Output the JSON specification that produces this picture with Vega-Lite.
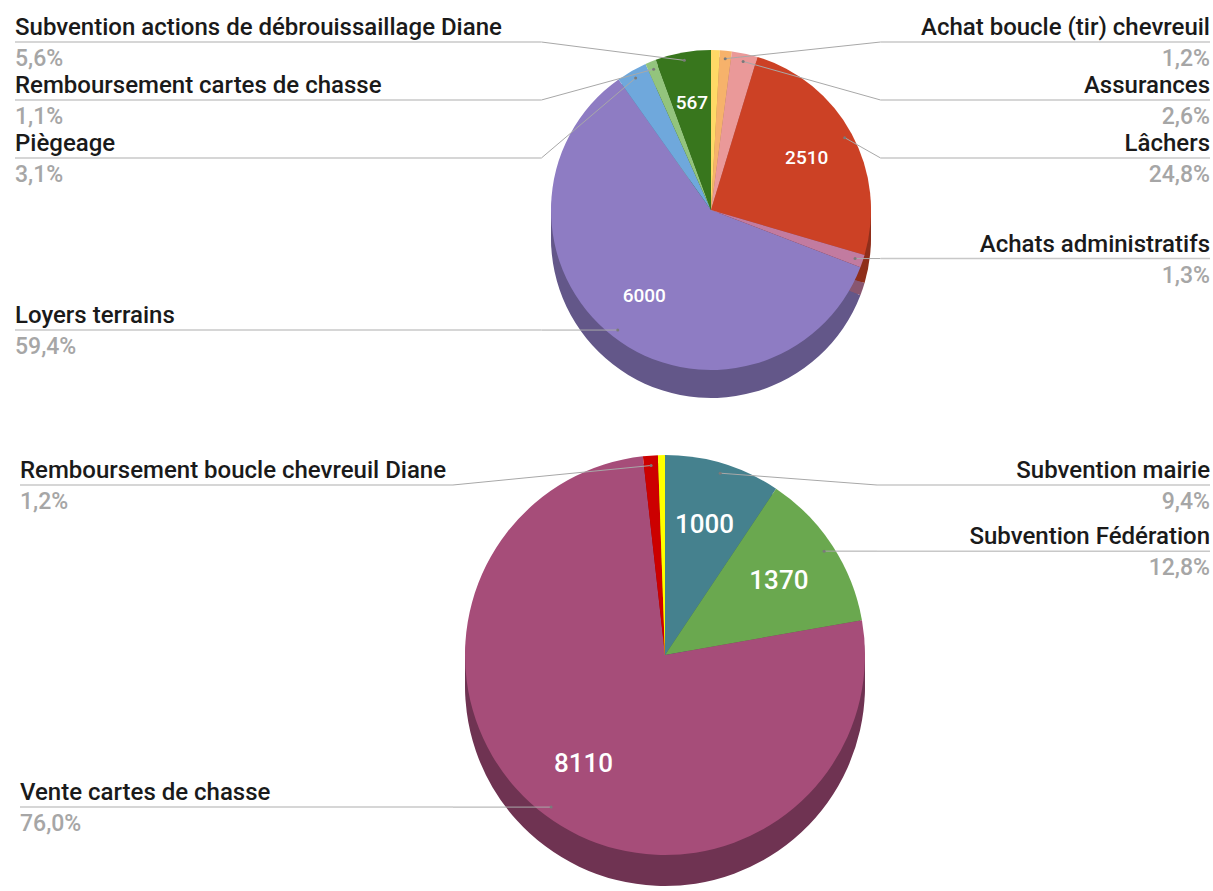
{
  "$schema": "https://vega.github.io/schema/vega-lite/v6.json",
  "padding": 0,
  "spacing": 0,
  "background": "white",
  "config": {"view": {"stroke": null}, "concat": {"spacing": 0}, "font": "Roboto"},
  "resolve": {"scale": {"color": "independent", "fill": "independent"}},
  "datasets": {
    "depenses": [
      {"order": 1, "cat": "Autre", "value": 90, "pct": null},
      {"order": 2, "cat": "Achat boucle (tir) chevreuil", "value": 121, "pct": "1,2%"},
      {"order": 3, "cat": "Assurances", "value": 263, "pct": "2,6%"},
      {"order": 4, "cat": "Lâchers", "value": 2510, "pct": "24,8%"},
      {"order": 5, "cat": "Achats administratifs", "value": 131, "pct": "1,3%"},
      {"order": 6, "cat": "Loyers terrains", "value": 6000, "pct": "59,4%"},
      {"order": 7, "cat": "Piègeage", "value": 313, "pct": "3,1%"},
      {"order": 8, "cat": "Remboursement cartes de chasse", "value": 111, "pct": "1,1%"},
      {"order": 9, "cat": "Subvention actions de débrouissaillage Diane", "value": 567, "pct": "5,6%"}
    ],
    "recettes": [
      {"order": 1, "cat": "Subvention mairie", "value": 1000, "pct": "9,4%"},
      {"order": 2, "cat": "Subvention Fédération", "value": 1370, "pct": "12,8%"},
      {"order": 3, "cat": "Vente cartes de chasse", "value": 8110, "pct": "76,0%"},
      {"order": 4, "cat": "Remboursement boucle chevreuil Diane", "value": 128, "pct": "1,2%"},
      {"order": 5, "cat": "Autre", "value": 60, "pct": null}
    ]
  },
  "vconcat": [
    {
      "width": 1213,
      "height": 400,
      "data": {"name": "depenses"},
      "transform": [
        {"window": [{"op": "sum", "field": "value", "as": "cum"}], "sort": [{"field": "order", "order": "ascending"}], "frame": [null, 0]},
        {"joinaggregate": [{"op": "sum", "field": "value", "as": "total"}]},
        {"calculate": "2*PI*(datum.cum - datum.value/2)/datum.total", "as": "mid"},
        {"calculate": "sin(datum.mid) >= 0 ? 'right' : 'left'", "as": "side"},
        {"calculate": "0.95*sin(datum.mid)", "as": "dx"},
        {"calculate": "0.95*cos(datum.mid)", "as": "dy"},
        {"calculate": "0.68*sin(datum.mid)", "as": "vx"},
        {"calculate": "0.68*cos(datum.mid)", "as": "vy"}
      ],
      "layer": [
        {"mark": {"type": "arc", "radius": 160, "yOffset": 7},
         "encoding": {
           "x": {"datum": 0, "type": "quantitative", "scale": {"domain": [-4.44375, 3.1375], "nice": false, "zero": false}, "axis": null},
           "y": {"datum": 0, "type": "quantitative", "scale": {"domain": [-1.1875, 1.3125], "nice": false, "zero": false}, "axis": null},
           "theta": {"field": "value", "type": "quantitative", "stack": true},
           "order": {"field": "order", "type": "quantitative"},
           "fill": {"field": "cat", "type": "nominal", "legend": null, "scale": {"domain": ["Autre", "Achat boucle (tir) chevreuil", "Assurances", "Lâchers", "Achats administratifs", "Loyers terrains", "Piègeage", "Remboursement cartes de chasse", "Subvention actions de débrouissaillage Diane"], "range": ["#b39a48", "#ac7d4b", "#a46b6b", "#8f2e1a", "#885670", "#635789", "#4e769a", "#678958", "#275314"]}}
         }},
        {"mark": {"type": "arc", "radius": 160, "yOffset": 14},
         "encoding": {
           "x": {"datum": 0, "type": "quantitative", "scale": {"domain": [-4.44375, 3.1375], "nice": false, "zero": false}, "axis": null},
           "y": {"datum": 0, "type": "quantitative", "scale": {"domain": [-1.1875, 1.3125], "nice": false, "zero": false}, "axis": null},
           "theta": {"field": "value", "type": "quantitative", "stack": true},
           "order": {"field": "order", "type": "quantitative"},
           "fill": {"field": "cat", "type": "nominal", "legend": null}
         }},
        {"mark": {"type": "arc", "radius": 160, "yOffset": 21},
         "encoding": {
           "x": {"datum": 0, "type": "quantitative", "scale": {"domain": [-4.44375, 3.1375], "nice": false, "zero": false}, "axis": null},
           "y": {"datum": 0, "type": "quantitative", "scale": {"domain": [-1.1875, 1.3125], "nice": false, "zero": false}, "axis": null},
           "theta": {"field": "value", "type": "quantitative", "stack": true},
           "order": {"field": "order", "type": "quantitative"},
           "fill": {"field": "cat", "type": "nominal", "legend": null}
         }},
        {"mark": {"type": "arc", "radius": 160, "yOffset": 28},
         "encoding": {
           "x": {"datum": 0, "type": "quantitative", "scale": {"domain": [-4.44375, 3.1375], "nice": false, "zero": false}, "axis": null},
           "y": {"datum": 0, "type": "quantitative", "scale": {"domain": [-1.1875, 1.3125], "nice": false, "zero": false}, "axis": null},
           "theta": {"field": "value", "type": "quantitative", "stack": true},
           "order": {"field": "order", "type": "quantitative"},
           "fill": {"field": "cat", "type": "nominal", "legend": null}
         }},
        {"mark": {"type": "arc", "radius": 160},
         "encoding": {
           "x": {"datum": 0, "type": "quantitative", "scale": {"domain": [-4.44375, 3.1375], "nice": false, "zero": false}, "axis": null},
           "y": {"datum": 0, "type": "quantitative", "scale": {"domain": [-1.1875, 1.3125], "nice": false, "zero": false}, "axis": null},
           "theta": {"field": "value", "type": "quantitative", "stack": true},
           "order": {"field": "order", "type": "quantitative"},
           "color": {"field": "cat", "type": "nominal", "legend": null, "scale": {"domain": ["Autre", "Achat boucle (tir) chevreuil", "Assurances", "Lâchers", "Achats administratifs", "Loyers terrains", "Piègeage", "Remboursement cartes de chasse", "Subvention actions de débrouissaillage Diane"], "range": ["#ffd966", "#f6b26b", "#ea9999", "#cc4125", "#c27ba0", "#8e7cc3", "#6fa8dc", "#93c47d", "#38761d"]}}
         }},
        {"transform": [{"filter": "datum.value >= 500"}],
         "mark": {"type": "text", "fontSize": 19, "fontWeight": 500, "color": "white", "font": "Roboto"},
         "encoding": {
           "x": {"field": "vx", "type": "quantitative", "scale": {"domain": [-4.44375, 3.1375], "nice": false, "zero": false}, "axis": null},
           "y": {"field": "vy", "type": "quantitative", "scale": {"domain": [-1.1875, 1.3125], "nice": false, "zero": false}, "axis": null},
           "text": {"field": "value", "type": "quantitative", "format": "d"}
         }},
        {"transform": [
           {"filter": "datum.pct != null"},
           {"calculate": "datum.side == 'right' ? datum.mid : -datum.mid", "as": "sk"},
           {"window": [{"op": "row_number", "as": "rank"}], "groupby": ["side"], "sort": [{"field": "sk", "order": "ascending"}]},
           {"calculate": "datum.rank == 1 ? 1.05 : min(datum.dy, 1.05 - (datum.rank - 1)*0.3625)", "as": "ly"},
           {"calculate": "datum.side == 'right' ? 1.06 : -1.06", "as": "bx"},
           {"calculate": "datum.side == 'right' ? 3.11875 : -4.35", "as": "ex"}
         ],
         "layer": [
           {"mark": {"type": "rule", "color": "#a8a8a8", "strokeWidth": 1},
            "encoding": {
              "x": {"field": "dx", "type": "quantitative", "scale": {"domain": [-4.44375, 3.1375], "nice": false, "zero": false}, "axis": null},
              "y": {"field": "dy", "type": "quantitative", "scale": {"domain": [-1.1875, 1.3125], "nice": false, "zero": false}, "axis": null},
              "x2": {"field": "bx"},
              "y2": {"field": "ly"}
            }},
           {"mark": {"type": "rule", "color": "#c8c8c8", "strokeWidth": 1.5},
            "encoding": {
              "x": {"field": "bx", "type": "quantitative", "scale": {"domain": [-4.44375, 3.1375], "nice": false, "zero": false}, "axis": null},
              "x2": {"field": "ex"},
              "y": {"field": "ly", "type": "quantitative", "scale": {"domain": [-1.1875, 1.3125], "nice": false, "zero": false}, "axis": null}
            }},
           {"mark": {"type": "point", "filled": true, "size": 9, "color": "#7a7a7a", "opacity": 1},
            "encoding": {
              "x": {"field": "dx", "type": "quantitative", "scale": {"domain": [-4.44375, 3.1375], "nice": false, "zero": false}, "axis": null},
              "y": {"field": "dy", "type": "quantitative", "scale": {"domain": [-1.1875, 1.3125], "nice": false, "zero": false}, "axis": null}
            }},
           {"transform": [{"filter": "datum.side == 'left'"}],
            "mark": {"type": "text", "align": "left", "baseline": "alphabetic", "dy": -7, "fontSize": 24, "fontWeight": 500, "color": "#1a1a1a", "font": "Roboto"},
            "encoding": {
              "x": {"field": "ex", "type": "quantitative", "scale": {"domain": [-4.44375, 3.1375], "nice": false, "zero": false}, "axis": null},
              "y": {"field": "ly", "type": "quantitative", "scale": {"domain": [-1.1875, 1.3125], "nice": false, "zero": false}, "axis": null},
              "text": {"field": "cat"}
            }},
           {"transform": [{"filter": "datum.side == 'right'"}],
            "mark": {"type": "text", "align": "right", "baseline": "alphabetic", "dy": -7, "fontSize": 24, "fontWeight": 500, "color": "#1a1a1a", "font": "Roboto"},
            "encoding": {
              "x": {"field": "ex", "type": "quantitative", "scale": {"domain": [-4.44375, 3.1375], "nice": false, "zero": false}, "axis": null},
              "y": {"field": "ly", "type": "quantitative", "scale": {"domain": [-1.1875, 1.3125], "nice": false, "zero": false}, "axis": null},
              "text": {"field": "cat"}
            }},
           {"transform": [{"filter": "datum.side == 'left'"}],
            "mark": {"type": "text", "align": "left", "baseline": "alphabetic", "dy": 24, "fontSize": 23, "fontWeight": 500, "color": "#a6a6a6", "font": "Roboto"},
            "encoding": {
              "x": {"field": "ex", "type": "quantitative", "scale": {"domain": [-4.44375, 3.1375], "nice": false, "zero": false}, "axis": null},
              "y": {"field": "ly", "type": "quantitative", "scale": {"domain": [-1.1875, 1.3125], "nice": false, "zero": false}, "axis": null},
              "text": {"field": "pct"}
            }},
           {"transform": [{"filter": "datum.side == 'right'"}],
            "mark": {"type": "text", "align": "right", "baseline": "alphabetic", "dy": 24, "fontSize": 23, "fontWeight": 500, "color": "#a6a6a6", "font": "Roboto"},
            "encoding": {
              "x": {"field": "ex", "type": "quantitative", "scale": {"domain": [-4.44375, 3.1375], "nice": false, "zero": false}, "axis": null},
              "y": {"field": "ly", "type": "quantitative", "scale": {"domain": [-1.1875, 1.3125], "nice": false, "zero": false}, "axis": null},
              "text": {"field": "pct"}
            }}
         ]}
      ]
    },
    {
      "width": 1213,
      "height": 491,
      "data": {"name": "recettes"},
      "transform": [
        {"window": [{"op": "sum", "field": "value", "as": "cum"}], "sort": [{"field": "order", "order": "ascending"}], "frame": [null, 0]},
        {"joinaggregate": [{"op": "sum", "field": "value", "as": "total"}]},
        {"calculate": "2*PI*(datum.cum - datum.value/2)/datum.total", "as": "mid"},
        {"calculate": "sin(datum.mid) >= 0 ? 'right' : 'left'", "as": "side"},
        {"calculate": "0.95*sin(datum.mid)", "as": "dx"},
        {"calculate": "0.95*cos(datum.mid)", "as": "dy"},
        {"calculate": "0.68*sin(datum.mid)", "as": "vx"},
        {"calculate": "0.68*cos(datum.mid)", "as": "vy"}
      ],
      "layer": [
        {"mark": {"type": "arc", "radius": 200, "yOffset": 8},
         "encoding": {
           "x": {"datum": 0, "type": "quantitative", "scale": {"domain": [-3.325, 2.74], "nice": false, "zero": false}, "axis": null},
           "y": {"datum": 0, "type": "quantitative", "scale": {"domain": [-1.18, 1.275], "nice": false, "zero": false}, "axis": null},
           "theta": {"field": "value", "type": "quantitative", "stack": true},
           "order": {"field": "order", "type": "quantitative"},
           "fill": {"field": "cat", "type": "nominal", "legend": null, "scale": {"domain": ["Subvention mairie", "Subvention Fédération", "Vente cartes de chasse", "Remboursement boucle chevreuil Diane", "Autre"], "range": ["#305a63", "#4a7637", "#6f3352", "#8f0000", "#b3b300"]}}
         }},
        {"mark": {"type": "arc", "radius": 200, "yOffset": 16},
         "encoding": {
           "x": {"datum": 0, "type": "quantitative", "scale": {"domain": [-3.325, 2.74], "nice": false, "zero": false}, "axis": null},
           "y": {"datum": 0, "type": "quantitative", "scale": {"domain": [-1.18, 1.275], "nice": false, "zero": false}, "axis": null},
           "theta": {"field": "value", "type": "quantitative", "stack": true},
           "order": {"field": "order", "type": "quantitative"},
           "fill": {"field": "cat", "type": "nominal", "legend": null}
         }},
        {"mark": {"type": "arc", "radius": 200, "yOffset": 24},
         "encoding": {
           "x": {"datum": 0, "type": "quantitative", "scale": {"domain": [-3.325, 2.74], "nice": false, "zero": false}, "axis": null},
           "y": {"datum": 0, "type": "quantitative", "scale": {"domain": [-1.18, 1.275], "nice": false, "zero": false}, "axis": null},
           "theta": {"field": "value", "type": "quantitative", "stack": true},
           "order": {"field": "order", "type": "quantitative"},
           "fill": {"field": "cat", "type": "nominal", "legend": null}
         }},
        {"mark": {"type": "arc", "radius": 200, "yOffset": 31},
         "encoding": {
           "x": {"datum": 0, "type": "quantitative", "scale": {"domain": [-3.325, 2.74], "nice": false, "zero": false}, "axis": null},
           "y": {"datum": 0, "type": "quantitative", "scale": {"domain": [-1.18, 1.275], "nice": false, "zero": false}, "axis": null},
           "theta": {"field": "value", "type": "quantitative", "stack": true},
           "order": {"field": "order", "type": "quantitative"},
           "fill": {"field": "cat", "type": "nominal", "legend": null}
         }},
        {"mark": {"type": "arc", "radius": 200},
         "encoding": {
           "x": {"datum": 0, "type": "quantitative", "scale": {"domain": [-3.325, 2.74], "nice": false, "zero": false}, "axis": null},
           "y": {"datum": 0, "type": "quantitative", "scale": {"domain": [-1.18, 1.275], "nice": false, "zero": false}, "axis": null},
           "theta": {"field": "value", "type": "quantitative", "stack": true},
           "order": {"field": "order", "type": "quantitative"},
           "color": {"field": "cat", "type": "nominal", "legend": null, "scale": {"domain": ["Subvention mairie", "Subvention Fédération", "Vente cartes de chasse", "Remboursement boucle chevreuil Diane", "Autre"], "range": ["#45818e", "#6aa84f", "#a64d79", "#cc0000", "#ffff00"]}}
         }},
        {"transform": [{"filter": "datum.value >= 500"}],
         "mark": {"type": "text", "fontSize": 26, "fontWeight": 500, "color": "white", "font": "Roboto"},
         "encoding": {
           "x": {"field": "vx", "type": "quantitative", "scale": {"domain": [-3.325, 2.74], "nice": false, "zero": false}, "axis": null},
           "y": {"field": "vy", "type": "quantitative", "scale": {"domain": [-1.18, 1.275], "nice": false, "zero": false}, "axis": null},
           "text": {"field": "value", "type": "quantitative", "format": "d"}
         }},
        {"transform": [
           {"filter": "datum.pct != null"},
           {"calculate": "datum.side == 'right' ? datum.mid : -datum.mid", "as": "sk"},
           {"window": [{"op": "row_number", "as": "rank"}], "groupby": ["side"], "sort": [{"field": "sk", "order": "ascending"}]},
           {"calculate": "datum.rank == 1 ? 0.85 : min(datum.dy, 0.85 - (datum.rank - 1)*0.29)", "as": "ly"},
           {"calculate": "datum.side == 'right' ? 1.06 : -1.06", "as": "bx"},
           {"calculate": "datum.side == 'right' ? 2.725 : -3.225", "as": "ex"}
         ],
         "layer": [
           {"mark": {"type": "rule", "color": "#a8a8a8", "strokeWidth": 1},
            "encoding": {
              "x": {"field": "dx", "type": "quantitative", "scale": {"domain": [-3.325, 2.74], "nice": false, "zero": false}, "axis": null},
              "y": {"field": "dy", "type": "quantitative", "scale": {"domain": [-1.18, 1.275], "nice": false, "zero": false}, "axis": null},
              "x2": {"field": "bx"},
              "y2": {"field": "ly"}
            }},
           {"mark": {"type": "rule", "color": "#c8c8c8", "strokeWidth": 1.5},
            "encoding": {
              "x": {"field": "bx", "type": "quantitative", "scale": {"domain": [-3.325, 2.74], "nice": false, "zero": false}, "axis": null},
              "x2": {"field": "ex"},
              "y": {"field": "ly", "type": "quantitative", "scale": {"domain": [-1.18, 1.275], "nice": false, "zero": false}, "axis": null}
            }},
           {"mark": {"type": "point", "filled": true, "size": 9, "color": "#7a7a7a", "opacity": 1},
            "encoding": {
              "x": {"field": "dx", "type": "quantitative", "scale": {"domain": [-3.325, 2.74], "nice": false, "zero": false}, "axis": null},
              "y": {"field": "dy", "type": "quantitative", "scale": {"domain": [-1.18, 1.275], "nice": false, "zero": false}, "axis": null}
            }},
           {"transform": [{"filter": "datum.side == 'left'"}],
            "mark": {"type": "text", "align": "left", "baseline": "alphabetic", "dy": -7, "fontSize": 24, "fontWeight": 500, "color": "#1a1a1a", "font": "Roboto"},
            "encoding": {
              "x": {"field": "ex", "type": "quantitative", "scale": {"domain": [-3.325, 2.74], "nice": false, "zero": false}, "axis": null},
              "y": {"field": "ly", "type": "quantitative", "scale": {"domain": [-1.18, 1.275], "nice": false, "zero": false}, "axis": null},
              "text": {"field": "cat"}
            }},
           {"transform": [{"filter": "datum.side == 'right'"}],
            "mark": {"type": "text", "align": "right", "baseline": "alphabetic", "dy": -7, "fontSize": 24, "fontWeight": 500, "color": "#1a1a1a", "font": "Roboto"},
            "encoding": {
              "x": {"field": "ex", "type": "quantitative", "scale": {"domain": [-3.325, 2.74], "nice": false, "zero": false}, "axis": null},
              "y": {"field": "ly", "type": "quantitative", "scale": {"domain": [-1.18, 1.275], "nice": false, "zero": false}, "axis": null},
              "text": {"field": "cat"}
            }},
           {"transform": [{"filter": "datum.side == 'left'"}],
            "mark": {"type": "text", "align": "left", "baseline": "alphabetic", "dy": 24, "fontSize": 23, "fontWeight": 500, "color": "#a6a6a6", "font": "Roboto"},
            "encoding": {
              "x": {"field": "ex", "type": "quantitative", "scale": {"domain": [-3.325, 2.74], "nice": false, "zero": false}, "axis": null},
              "y": {"field": "ly", "type": "quantitative", "scale": {"domain": [-1.18, 1.275], "nice": false, "zero": false}, "axis": null},
              "text": {"field": "pct"}
            }},
           {"transform": [{"filter": "datum.side == 'right'"}],
            "mark": {"type": "text", "align": "right", "baseline": "alphabetic", "dy": 24, "fontSize": 23, "fontWeight": 500, "color": "#a6a6a6", "font": "Roboto"},
            "encoding": {
              "x": {"field": "ex", "type": "quantitative", "scale": {"domain": [-3.325, 2.74], "nice": false, "zero": false}, "axis": null},
              "y": {"field": "ly", "type": "quantitative", "scale": {"domain": [-1.18, 1.275], "nice": false, "zero": false}, "axis": null},
              "text": {"field": "pct"}
            }}
         ]}
      ]
    }
  ]
}
